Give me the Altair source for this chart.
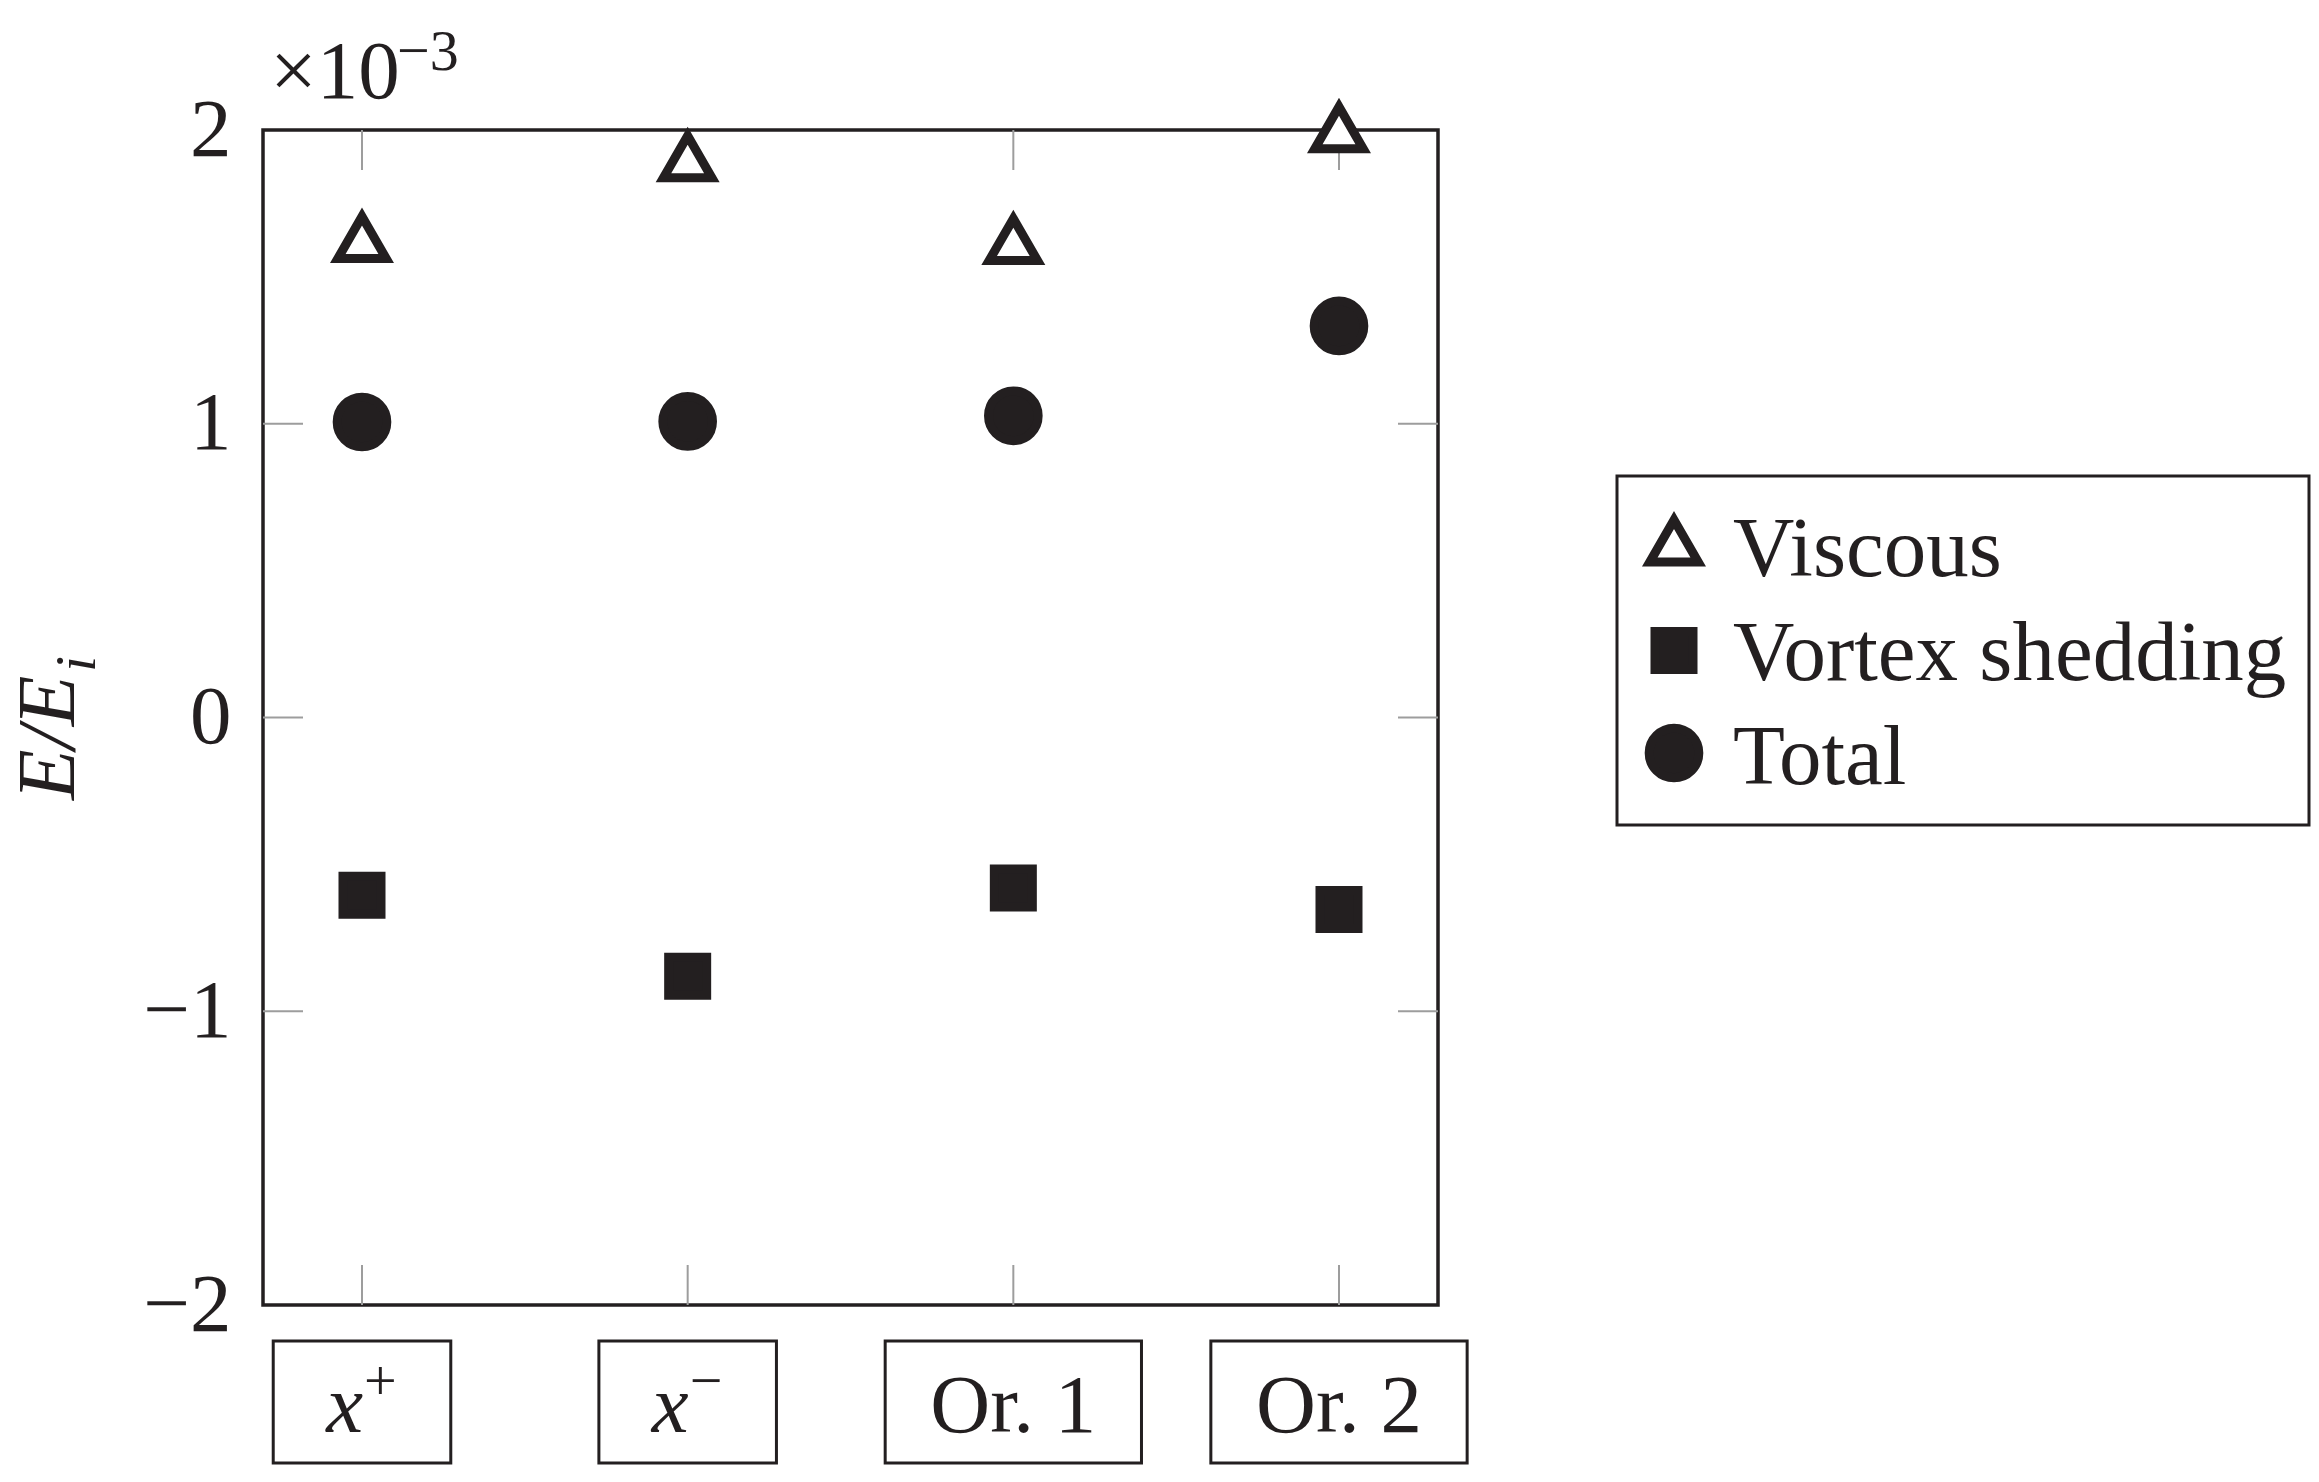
import altair as alt
import pandas as pd

# ---------------- data ----------------
categories = ["x+", "x-", "Or. 1", "Or. 2"]
label_base = ["x", "x", "Or. 1", "Or. 2"]
label_sup = ["+", "\u2212", "", ""]
series_names = ["Viscous", "Vortex shedding", "Total"]
viscous = [1.61, 1.885, 1.603, 1.984]
vortex = [-0.605, -0.881, -0.580, -0.654]
total = [1.006, 1.008, 1.027, 1.333]
y_ticks = [-2, -1, 0, 1, 2]
y_title_main = "E/E"
y_title_sub = "i"
scale_base = "\u00d710"
scale_exp = "\u22123"

# ---------------- style ----------------
W, H = 1175, 1175
Y_MIN, Y_MAX = -2, 2
INK = "#231f20"
GRAY = "#9d9d9d"
FONT = "Liberation Serif"
FS = 83
FS_LEG = 85
FS_SMALL = 58
TRI = "M0,-1.1547L-1,0.5774L1,0.5774Z"   # centroid-centred triangle
marker_style = {
    "Viscous": dict(shape=TRI, size=2343, fill="white"),
    "Vortex shedding": dict(shape="square", size=1444, fill=INK),
    "Total": dict(shape="circle", size=2463, fill=INK),
}

pos = list(range(1, len(categories) + 1))
points_df = pd.DataFrame({
    "pos": pos * 3,
    "series": [s for s in series_names for _ in pos],
    "value": viscous + vortex + total,
})
cat_df = pd.DataFrame({"pos": pos, "cat": categories, "base": label_base, "sup": label_sup})
ytick_df = pd.DataFrame({"v": y_ticks})
legend_df = pd.DataFrame({"series": series_names})

xscale = alt.Scale(domain=[0.696, 4.304], nice=False, zero=False)
yscale = alt.Scale(domain=[Y_MIN, Y_MAX], nice=False, zero=False)
yaxis = alt.Axis(values=y_ticks, format="d", ticks=False, domain=False, grid=False,
                 labelPadding=32, title=None, labelFlush=False, labelOverlap=False,
                 labelFont=FONT, labelFontSize=FS, labelColor=INK)


def X(f):
    return alt.X(f, scale=xscale, axis=None)


inner = f"datum.v > {Y_MIN} && datum.v < {Y_MAX}"

# inner ticks
xt_top = alt.Chart(cat_df).mark_rule(color=GRAY, strokeWidth=2).encode(
    x=X("pos:Q"), y=alt.value(0), y2=alt.value(40))
xt_bot = alt.Chart(cat_df).mark_rule(color=GRAY, strokeWidth=2).encode(
    x=X("pos:Q"), y=alt.value(H - 40), y2=alt.value(H))
yt_left = alt.Chart(ytick_df).transform_filter(inner).mark_rule(color=GRAY, strokeWidth=2).encode(
    y=alt.Y("v:Q", scale=yscale, axis=yaxis), x=alt.value(0), x2=alt.value(40))
yt_right = alt.Chart(ytick_df).transform_filter(inner).mark_rule(color=GRAY, strokeWidth=2).encode(
    y=alt.Y("v:Q", scale=yscale, axis=yaxis), x=alt.value(W - 40), x2=alt.value(W))

# data points, one layer per series
pt_layers = []
for s in series_names:
    st = marker_style[s]
    pt_layers.append(
        alt.Chart(points_df).transform_filter(alt.datum.series == s).mark_point(
            filled=True, opacity=1, stroke=INK, strokeWidth=9, strokeJoin="miter",
            shape=st["shape"], size=st["size"], fill=st["fill"],
        ).encode(x=X("pos:Q"), y=alt.Y("value:Q", scale=yscale, axis=yaxis))
    )

# boxed category labels below the axis
boxes = alt.Chart(cat_df).transform_calculate(
    n="length(datum.base + datum.sup)",
    lo="datum.pos - (0.192 + 0.0403 * datum.n)",
    hi="datum.pos + (0.192 + 0.0403 * datum.n)",
).mark_rect(fill="white", stroke=INK, strokeWidth=3).encode(
    x=X("lo:Q"), x2="hi:Q", y=alt.value(1341 - 130), y2=alt.value(1463 - 130))

lab_plain = alt.Chart(cat_df).transform_filter("datum.sup == ''").mark_text(
    font=FONT, fontSize=FS, color=INK, align="center", baseline="alphabetic"
).encode(x=X("pos:Q"), y=alt.value(1432 - 130), text="base:N")

lab_it = alt.Chart(cat_df).transform_filter("datum.sup != ''").mark_text(
    font=FONT, fontSize=FS, fontStyle="italic", color=INK, align="right",
    baseline="alphabetic", dx=1
).encode(x=X("pos:Q"), y=alt.value(1432 - 130), text="base:N")

lab_sup = alt.Chart(cat_df).transform_filter("datum.sup != ''").mark_text(
    font=FONT, fontSize=FS_SMALL, color=INK, align="left", baseline="alphabetic", dx=2
).encode(x=X("pos:Q"), y=alt.value(1400 - 130), text="sup:N")

# legend (drawn from the series list)
leg_box = alt.Chart(pd.DataFrame({"k": [0]})).mark_rect(
    fill="white", stroke=INK, strokeWidth=3
).encode(x=alt.value(1617 - 263), x2=alt.value(2309 - 263),
         y=alt.value(476 - 130), y2=alt.value(825 - 130))

leg_layers = []
for i, s in enumerate(series_names):
    st = marker_style[s]
    base = alt.Chart(legend_df).transform_filter(alt.datum.series == s)
    leg_layers.append(base.mark_point(
        filled=True, opacity=1, stroke=INK, strokeWidth=9, strokeJoin="miter",
        shape=st["shape"], size=st["size"], fill=st["fill"],
    ).encode(x=alt.value(1674 - 263), y=alt.value(418 + i * 102.5)))
    leg_layers.append(base.mark_text(
        font=FONT, fontSize=FS_LEG, color=INK, align="left", baseline="alphabetic"
    ).encode(x=alt.value(1733 - 263), y=alt.value(446 + i * 104), text="series:N"))

# x10^-3 multiplier
one = pd.DataFrame({"a": [scale_base], "b": [scale_exp], "m": [y_title_main], "s": [y_title_sub]})
mult1 = alt.Chart(one).mark_text(font=FONT, fontSize=FS, color=INK, align="left",
                                 baseline="alphabetic").encode(
    x=alt.value(7), y=alt.value(-32), text="a:N")
mult2 = alt.Chart(one).mark_text(font=FONT, fontSize=FS_SMALL, color=INK, align="left",
                                 baseline="alphabetic").encode(
    x=alt.value(134), y=alt.value(-60), text="b:N")

# y-axis title E/E_i
yt1 = alt.Chart(one).mark_text(font=FONT, fontSize=FS, fontStyle="italic", color=INK,
                               angle=270, align="left", baseline="alphabetic").encode(
    x=alt.value(74 - 263), y=alt.value(670), text="m:N")
yt2 = alt.Chart(one).mark_text(font=FONT, fontSize=FS_SMALL, fontStyle="italic", color=INK,
                               angle=270, align="left", baseline="alphabetic").encode(
    x=alt.value(95 - 263), y=alt.value(542), text="s:N")

chart = alt.layer(
    xt_top, xt_bot, yt_left, yt_right, *pt_layers, boxes, lab_plain, lab_it, lab_sup,
    leg_box, *leg_layers, mult1, mult2, yt1, yt2
).properties(
    width=W, height=H,
    autosize=alt.AutoSizeParams(type="none"),
    padding={"left": 255, "top": 122, "right": 873, "bottom": 166},
).configure_view(stroke=INK, strokeWidth=3.5)

chart.save("out.html", embed_options={"renderer": "svg", "actions": False})
